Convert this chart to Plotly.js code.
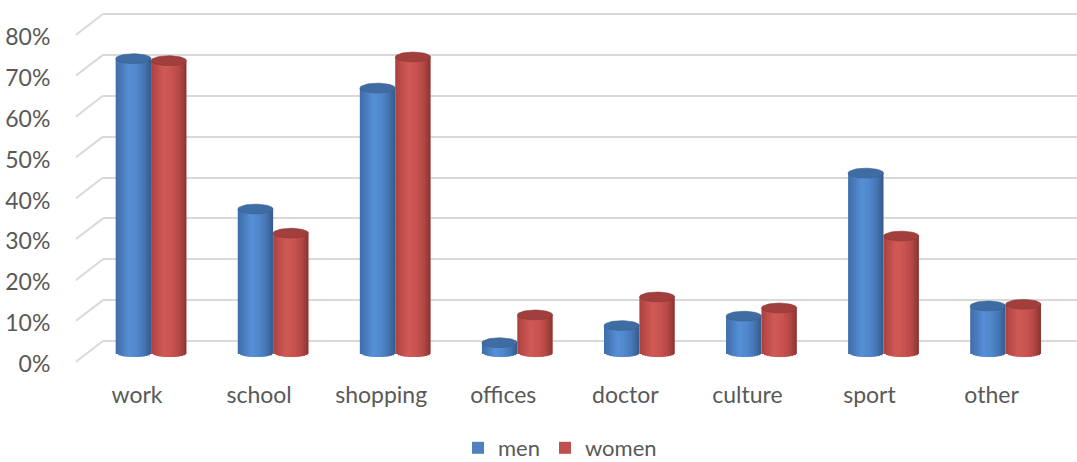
<!DOCTYPE html>
<html>
<head>
<meta charset="utf-8">
<script src="https://cdn.plot.ly/plotly-3.0.1.min.js"></script>
<style>html,body{margin:0;padding:0;background:#fff;}#chart{width:1077px;height:462px;}</style>
</head>
<body>
<div id="chart"></div>
<script>
// ---- data ----
const categories = ["work", "school", "shopping", "offices", "doctor", "culture", "sport", "other"];
const men   = [71.8, 35.0, 64.6, 2.3, 6.5, 8.8, 43.8, 11.3];
const women = [71.3, 29.1, 72.2, 9.1, 13.5, 10.8, 28.4, 11.7];
const yTickVals = [0, 10, 20, 30, 40, 50, 60, 70, 80];
const yTickText = ["0%", "10%", "20%", "30%", "40%", "50%", "60%", "70%", "80%"];
const seriesNames = ["men", "women"];
const seriesColors = ["#4F81BD", "#C0504D"];

// ---- style / geometry ----
const FONT = "Lato, 'Liberation Sans', sans-serif";
const TXT = "#595959";
const FS = 23;
const BASE = 2.9;          // floor depth of cylinders on front scale
const RY = 1.2;            // vertical semi-axis of cylinder ellipses (value units)
const BAR_W = 0.29;        // cylinder width (category units)
const CENTERS = [-0.03, 0.26]; // cylinder centre offsets from category
const NSTRIP = 14;
const shadeStops = [
  [[-1, '#3F6DA8'], [-0.6, '#4B7EBF'], [-0.25, '#5790D6'], [0.2, '#5087CB'], [0.6, '#4676B3'], [1, '#345A8B']],
  [[-1, '#A8423F'], [-0.6, '#C24F4C'], [-0.25, '#D05A56'], [0.2, '#C9524F'], [0.6, '#B44845'], [1, '#8A3330']]
];
const topColors = ['#3F6CA3', '#A03F3C'];
const topLines = ['#37608F', '#8E3735'];

function hex2rgb(h){ return [1,3,5].map(i => parseInt(h.substr(i,2),16)); }
function shade(stops, u){
  for (let i = 0; i < stops.length - 1; i++) {
    const [u0, c0] = stops[i], [u1, c1] = stops[i+1];
    if (u >= u0 && u <= u1) {
      const t = (u - u0) / (u1 - u0), a = hex2rgb(c0), b = hex2rgb(c1);
      return 'rgb(' + a.map((v, j) => Math.round(v + (b[j] - v) * t)).join(',') + ')';
    }
  }
  return stops[stops.length-1][1];
}

const traces = [];
// back wall gridline subplot (x,y) — needs a trace to exist
traces.push({type:'scatter', x:[0], y:[0], xaxis:'x', yaxis:'y', mode:'markers',
  marker:{opacity:0}, showlegend:false, hoverinfo:'skip'});

const seriesVals = [men, women];
seriesVals.forEach((vals, s) => {
  // solid underlay (also the legend entry)
  traces.push({
    type:'bar', xaxis:'x2', yaxis:'y2',
    x: categories.map((c, i) => i + CENTERS[s]),
    y: vals, base: BASE, width: BAR_W * 0.96,
    marker:{color: seriesColors[s], line:{width:0}},
    name: seriesNames[s], showlegend: true, legendgroup: seriesNames[s], hoverinfo:'skip'
  });
  const sw = BAR_W / NSTRIP;
  for (let k = 0; k < NSTRIP; k++) {
    const u = -1 + (2 * k + 1) / NSTRIP;
    const drop = RY * Math.sqrt(Math.max(0, 1 - u * u));
    const ext = (k < NSTRIP - 1) ? 0.6 * sw : 0;
    const w = sw + ext;
    const xs = categories.map((c, i) => i + CENTERS[s] - BAR_W / 2 + k * sw + w / 2);
    traces.push({
      type:'bar', xaxis:'x2', yaxis:'y2',
      x: xs,
      y: vals.map(v => v + drop),
      base: BASE - drop,
      width: w,
      marker:{color: shade(shadeStops[s], u), line:{width:0}},
      name: seriesNames[s], showlegend: false, legendgroup: seriesNames[s], hoverinfo:'skip'
    });
  }
});
// top ellipses
seriesVals.forEach((vals, s) => {
  const ex = [], ey = [];
  vals.forEach((v, i) => {
    const cx = i + CENTERS[s], cy = v + BASE;
    for (let j = 0; j <= 48; j++) {
      const a = 2 * Math.PI * j / 48;
      ex.push(cx + (BAR_W / 2) * Math.cos(a));
      ey.push(cy + RY * Math.sin(a));
    }
    ex.push(null); ey.push(null);
  });
  traces.push({type:'scatter', xaxis:'x2', yaxis:'y2', x:ex, y:ey, mode:'lines',
    fill:'toself', fillcolor: topColors[s], line:{color: topLines[s], width:0.6},
    showlegend:false, hoverinfo:'skip', connectgaps:false});
});

// slanted floor-to-wall gridline segments (front scale -> back scale)
const PXU = 4.0875;              // pixels per % unit
const BACK_SHIFT = 23 / PXU;     // back wall is 23px above front
const shapes = yTickVals.map(v => ({
  type:'line', xref:'x2', yref:'y2', layer:'below',
  x0: -0.5246, y0: v, x1: -0.279, y1: v + BACK_SHIFT,
  line:{color:'#d9d9d9', width:2}
}));

const layout = {
  width:1077, height:462,
  margin:{l:76, r:0, t:10, b:92, autoexpand:false},
  paper_bgcolor:'#ffffff', plot_bgcolor:'rgba(0,0,0,0)',
  font:{family:FONT, color:TXT, size:FS},
  barmode:'overlay',
  showlegend:true,
  legend:{orientation:'h', x:0.4835, xanchor:'center', y:-0.275, yanchor:'bottom',
    font:{family:FONT, size:22, color:TXT}, traceorder:'normal', itemclick:false,
    borderwidth:0, bgcolor:'rgba(0,0,0,0)'},
  xaxis:{domain:[0.027, 1], range:[-0.279, 7.7], visible:false, fixedrange:true},
  yaxis:{domain:[0, 1], range:[-7.09, 80.98], tickvals:yTickVals, showticklabels:false,
    showgrid:true, gridcolor:'#d9d9d9', gridwidth:2, zeroline:false, showline:false, ticks:'', fixedrange:true},
  xaxis2:{domain:[0, 1], range:[-0.5, 7.7], anchor:'y2', tickvals:categories.map((c, i) => i),
    ticktext:categories, showgrid:false, zeroline:false, showline:false,
    ticks:'outside', ticklen:4, tickcolor:'rgba(0,0,0,0)',
    tickfont:{family:FONT, size:FS, color:TXT}, fixedrange:true, automargin:false},
  yaxis2:{domain:[0, 1], range:[-1.468, 86.6], anchor:'x2', tickvals:yTickVals, ticktext:yTickText,
    showgrid:false, zeroline:false, showline:false,
    ticks:'outside', ticklen:20, tickcolor:'rgba(0,0,0,0)',
    tickfont:{family:FONT, size:FS, color:TXT}, fixedrange:true, automargin:false},
  shapes: shapes
};

Plotly.newPlot('chart', traces, layout, {displayModeBar:false, staticPlot:true});
</script>
</body>
</html>
